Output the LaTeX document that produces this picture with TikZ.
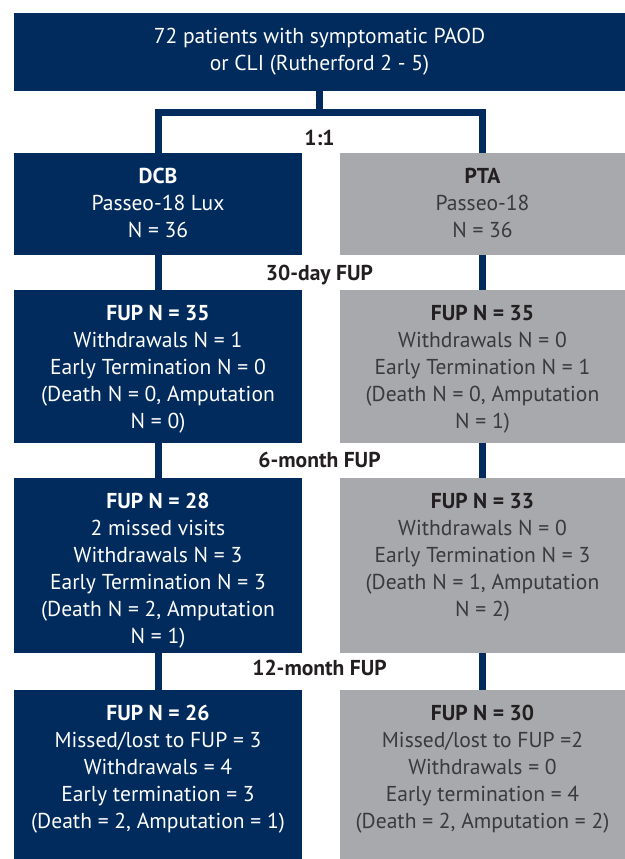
\documentclass[tikz,border=0pt]{standalone}
\usepackage{fontspec}
\setmainfont{PT Sans}

\definecolor{navy}{RGB}{0,43,92}
\definecolor{ash}{RGB}{167,169,172}
\definecolor{ink}{RGB}{35,31,32}
\definecolor{slate}{RGB}{58,58,61}

% one pixel of the layout
\newlength{\pu}
\setlength{\pu}{0.3mm}
% box text: width, height, lines (top aligned)
\newcommand{\cell}[3]{\parbox[c][#2\pu][t]{#1\pu}{\centering\vspace*{15\pu}#3\par}}

\tikzset{
	every node/.style={font=\fontsize{18.4}{23}\selectfont},
	dcbcell/.style={fill=navy,text=white,inner sep=0pt,anchor=north},
	ptacell/.style={fill=ash,text=slate,inner sep=0pt,anchor=north},
	link/.style={draw=navy,line width=7\pu},
	stage/.style={font=\fontsize{18.4}{23}\selectfont\bfseries,text=ink}
}

\begin{document}
\begin{tikzpicture}[x=0.3mm,y=-0.3mm]
				\useasboundingbox (0,0) rectangle (625,859);
				% randomisation
				\node[dcbcell] (top) at (319.5,13)
				{\cell{611}{78}{72 patients with symptomatic PAOD\\or CLI (Rutherford 2 - 5)}};
				\coordinate (split) at (319.5,113);
				% treatment arms
				\node[dcbcell] (dcb) at (158,153)
				{\cell{288}{102}{\textbf{DCB}\\Passeo-18 Lux\\N = 36}};
				\node[ptacell] (pta) at (482.5,153)
				{\cell{285}{102}{\textcolor{ink}{\textbf{PTA}}\\Passeo-18\\N = 36}};
				% 30-day FUP
				\node[dcbcell] (dcbA) at (158,290)
				{\cell{288}{153}{\textbf{FUP N = 35}\\Withdrawals N = 1\\Early Termination N = 0\\(Death N = 0, Amputation\\N = 0)}};
				\node[ptacell] (ptaA) at (482.5,290)
				{\cell{285}{153}{\textcolor{ink}{\textbf{FUP N = 35}}\\Withdrawals N = 0\\Early Termination N = 1\\(Death N = 0, Amputation\\N = 1)}};
				% 6-month FUP
				\node[dcbcell] (dcbB) at (158,478)
				{\cell{288}{175}{\textbf{FUP N = 28}\\2 missed visits\\Withdrawals N = 3\\Early Termination N = 3\\(Death N = 2, Amputation\\N = 1)}};
				\node[ptacell] (ptaB) at (482.5,478)
				{\cell{285}{175}{\textcolor{ink}{\textbf{FUP N = 33}}\\Withdrawals N = 0\\Early Termination N = 3\\(Death N = 1, Amputation\\N = 2)}};
				% 12-month FUP
				\node[dcbcell] (dcbC) at (158,690)
				{\cell{288}{169}{\textbf{FUP N = 26}\\Missed/lost to FUP = 3\\Withdrawals = 4\\Early termination = 3\\(Death = 2, Amputation = 1)}};
				\node[ptacell] (ptaC) at (482.5,690)
				{\cell{285}{169}{\textcolor{ink}{\textbf{FUP N = 30}}\\Missed/lost to FUP =2\\Withdrawals = 0\\Early termination = 4\\(Death = 2, Amputation = 2)}};
				% connectors
				\draw[link] (top.south) -- (split);
				\draw[link] (dcb.north) |- (split) -| (pta.north);
				\draw[link] (dcb.south) -- (dcbA.north);
				\draw[link] (dcbA.south) -- (dcbB.north);
				\draw[link] (dcbB.south) -- (dcbC.north);
				\draw[link] (pta.south) -- (ptaA.north);
				\draw[link] (ptaA.south) -- (ptaB.north);
				\draw[link] (ptaB.south) -- (ptaC.north);
				% stage labels
				\node[stage] (ratio) at (319.5,138) {1:1};
				\node[stage] (fup30) at (319.5,275) {30-day FUP};
				\node[stage] (fup6) at (319.5,460) {6-month FUP};
				\node[stage] (fup12) at (319.5,668) {12-month FUP};
			\end{tikzpicture}
\end{document}
